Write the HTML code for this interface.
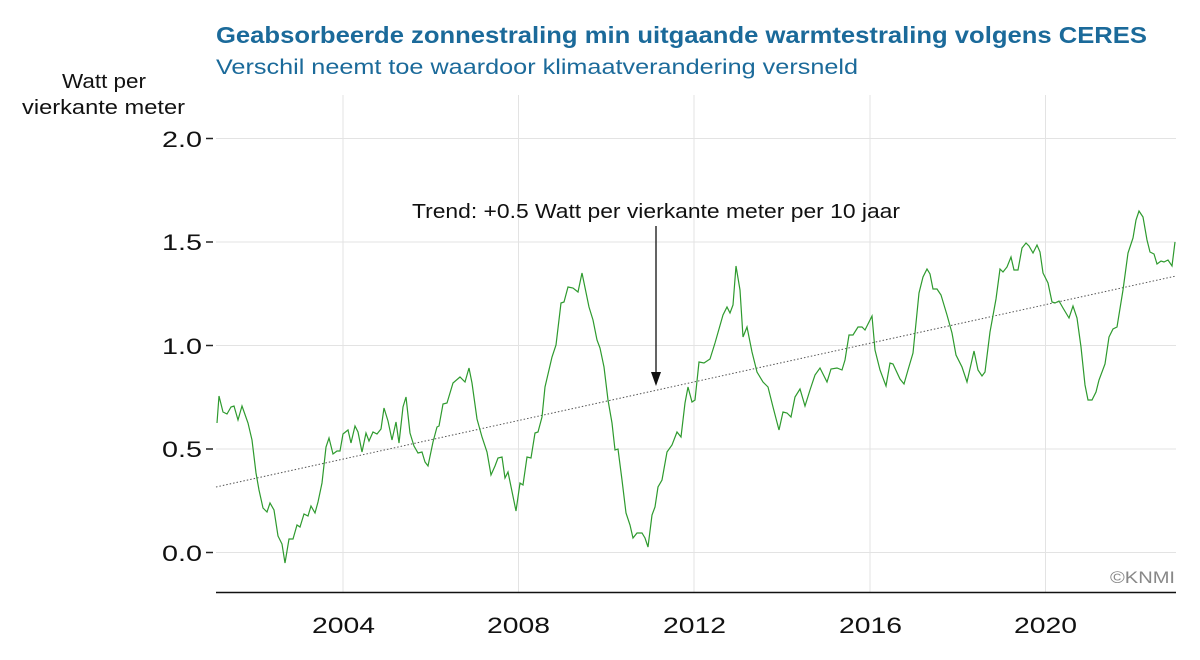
<!DOCTYPE html>
<html><head><meta charset="utf-8"><style>body{margin:0;background:#fff}svg{display:block}</style></head><body>
<svg width="1200" height="660" xmlns="http://www.w3.org/2000/svg" font-family="Liberation Sans, sans-serif">
<text x="216" y="43" font-size="23" font-weight="bold" fill="#1b6a9a" textLength="931" lengthAdjust="spacingAndGlyphs">Geabsorbeerde zonnestraling min uitgaande warmtestraling volgens CERES</text>
<text x="216" y="74" font-size="21" fill="#1b6a9a" textLength="642" lengthAdjust="spacingAndGlyphs">Verschil neemt toe waardoor klimaatverandering versneld</text>
<text x="62" y="88" font-size="20" fill="#111" textLength="84" lengthAdjust="spacingAndGlyphs">Watt per</text>
<text x="22" y="114" font-size="20" fill="#111" textLength="163" lengthAdjust="spacingAndGlyphs">vierkante meter</text>
<g stroke="#e3e3e3" stroke-width="1">
<line x1="216" x2="1176" y1="138.5" y2="138.5"/><line x1="216" x2="1176" y1="242" y2="242"/><line x1="216" x2="1176" y1="345.5" y2="345.5"/><line x1="216" x2="1176" y1="449" y2="449"/><line x1="216" x2="1176" y1="552.5" y2="552.5"/>
<line x1="343" x2="343" y1="95" y2="592"/><line x1="518.5" x2="518.5" y1="95" y2="592"/><line x1="694" x2="694" y1="95" y2="592"/><line x1="870" x2="870" y1="95" y2="592"/><line x1="1045.5" x2="1045.5" y1="95" y2="592"/>
</g>
<g stroke="#222" stroke-width="1.5"><line x1="206" x2="213" y1="138.5" y2="138.5"/><line x1="206" x2="213" y1="242" y2="242"/><line x1="206" x2="213" y1="345.5" y2="345.5"/><line x1="206" x2="213" y1="449" y2="449"/><line x1="206" x2="213" y1="552.5" y2="552.5"/></g>
<g font-size="22" fill="#111"><text x="162" y="147" textLength="40" lengthAdjust="spacingAndGlyphs">2.0</text><text x="162" y="250" textLength="40" lengthAdjust="spacingAndGlyphs">1.5</text><text x="162" y="354" textLength="40" lengthAdjust="spacingAndGlyphs">1.0</text><text x="162" y="457" textLength="40" lengthAdjust="spacingAndGlyphs">0.5</text><text x="162" y="561" textLength="40" lengthAdjust="spacingAndGlyphs">0.0</text></g>
<line x1="216" x2="1176" y1="592.5" y2="592.5" stroke="#111" stroke-width="1.5"/>
<g font-size="22" fill="#111"><text x="312" y="633" textLength="63" lengthAdjust="spacingAndGlyphs">2004</text><text x="487" y="633" textLength="63" lengthAdjust="spacingAndGlyphs">2008</text><text x="663" y="633" textLength="63" lengthAdjust="spacingAndGlyphs">2012</text><text x="839" y="633" textLength="63" lengthAdjust="spacingAndGlyphs">2016</text><text x="1014" y="633" textLength="63" lengthAdjust="spacingAndGlyphs">2020</text></g>
<text x="1110" y="583" font-size="17" fill="#888" textLength="65" lengthAdjust="spacingAndGlyphs">©KNMI</text>
<line x1="216" y1="487" x2="1176" y2="276" stroke="#555" stroke-width="1" stroke-dasharray="1.5,2"/>
<polyline fill="none" stroke="#2e9a2e" stroke-width="1.2" points="217,423 219,396 223,412 227,414 231,407 234,406 238,420 242,406 248,423 252,440 256,473 259,490 263,508 267,512 270,503 274,510 278,536 282,544 285,563 289,539 293,539 297,525 300,527 304,514 308,516 311,506 315,513 318,502 322,483 326,447 329,438 333,454 337,451 340,451 343,434 348,430 351,443 355,426 358,432 362,452 366,433 369,441 373,432 377,434 381,429 384,408 388,421 392,440 396,422 399,443 403,407 406,397 410,433 414,446 418,453 422,452 425,462 428,466 433,442 437,427 439,426 443,404 447,403 453,383 460,377 465,382 469,368 472,383 477,419 482,437 487,452 491,475 495,466 498,458 502,457 505,478 508,472 516,511 520,483 523,485 527,457 531,458 535,433 538,432 542,417 545,387 552,357 556,345 561,303 564,302 568,287 573,288 578,292 582,273 589,307 593,320 597,340 600,348 604,367 608,400 612,423 615,450 618,449 622,480 626,513 630,525 633,538 637,533 642,533 645,538 648,547 652,515 655,507 658,487 662,480 667,452 672,445 677,432 681,437 685,403 688,387 692,402 695,400 699,362 704,363 710,359 715,343 723,315 727,307 730,313 733,305 736,266 740,290 743,337 747,327 752,352 757,372 763,382 768,387 773,407 779,430 783,412 787,413 791,417 795,397 800,389 805,406 810,390 815,375 820,368 827,382 831,369 837,368 842,370 845,360 849,335 853,335 858,327 862,327 865,330 868,324 872,316 875,350 880,370 886,386 890,363 893,364 900,379 904,384 908,370 913,353 919,293 923,277 927,269 930,274 933,289 937,289 941,295 947,315 952,333 956,355 962,367 967,382 974,351 978,370 982,376 985,372 990,332 996,299 1000,269 1003,272 1007,267 1011,257 1014,270 1018,270 1022,248 1026,243 1029,246 1033,253 1037,245 1040,252 1043,273 1048,283 1052,302 1055,303 1059,301 1063,308 1069,318 1073,306 1077,318 1081,347 1085,385 1088,400 1092,400 1096,392 1099,380 1105,364 1109,337 1113,329 1117,327 1123,290 1128,253 1133,238 1136,220 1139,211 1143,217 1147,240 1150,252 1154,254 1157,264 1161,261 1164,262 1168,260 1172,266 1175,242"/>
<text x="412" y="218" font-size="20" fill="#111" textLength="488" lengthAdjust="spacingAndGlyphs">Trend: +0.5 Watt per vierkante meter per 10 jaar</text>
<line x1="656" y1="226" x2="656" y2="374" stroke="#111" stroke-width="1.3"/>
<polygon points="651,372 661,372 656,386" fill="#111"/>
</svg>
</body></html>
